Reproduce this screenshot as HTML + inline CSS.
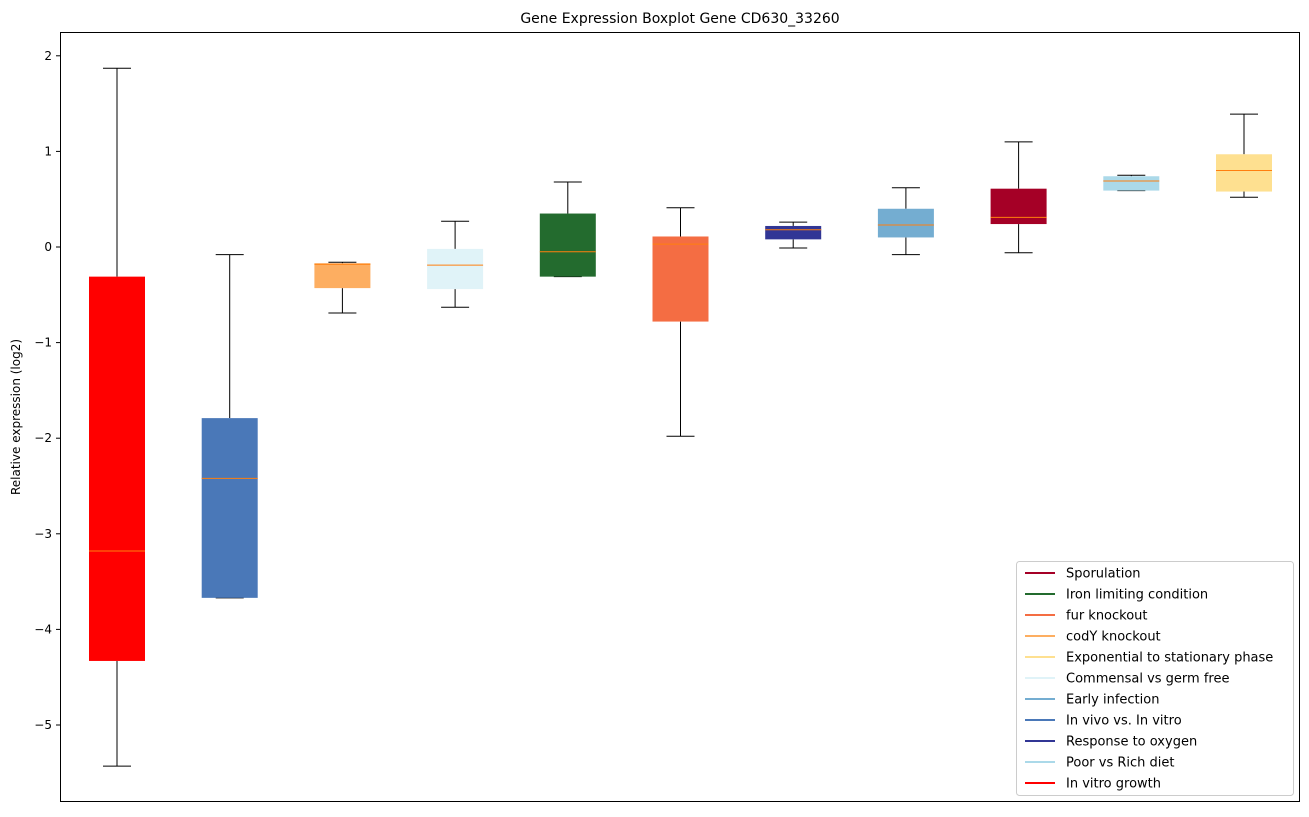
<!DOCTYPE html>
<html><head><meta charset="utf-8">
<style>
body{margin:0;background:#fff;font-family:"Liberation Sans","DejaVu Sans",sans-serif;}
svg text{font-family:"DejaVu Sans","Liberation Sans",sans-serif;}
</style></head>
<body>
<svg id="chart" width="1309" height="812" xmlns="http://www.w3.org/2000/svg">
<text x="680" y="23" font-size="14" text-anchor="middle">Gene Expression Boxplot Gene CD630_33260</text>
<text transform="translate(20,417) rotate(-90)" font-size="12" text-anchor="middle">Relative expression (log2)</text>
<g id="ticks"></g>
<g id="boxes"></g>
<rect x="60.5" y="32.5" width="1239" height="769" fill="none" stroke="#000" stroke-width="1"/>
<g id="legend"></g>
</svg>
<script>
const categories=["In vitro growth","In vivo vs. In vitro","codY knockout","Commensal vs germ free","Iron limiting condition","fur knockout","Response to oxygen","Early infection","Sporulation","Poor vs Rich diet","Exponential to stationary phase"];
const colors=["#ff0000","#4a78b8","#fdae61","#e0f3f8","#236b2e","#f46d43","#313695","#74add1","#a50026","#abd9e9","#fee090"];
const whiskerHigh=[1.87,-0.08,-0.16,0.27,0.68,0.41,0.26,0.62,1.10,0.75,1.39];
const q3=[-0.31,-1.79,-0.17,-0.02,0.35,0.11,0.22,0.40,0.61,0.74,0.97];
const medians=[-3.18,-2.42,-0.18,-0.19,-0.05,0.03,0.18,0.23,0.31,0.69,0.80];
const q1=[-4.33,-3.67,-0.43,-0.44,-0.31,-0.78,0.08,0.10,0.24,0.59,0.58];
const whiskerLow=[-5.43,-3.67,-0.69,-0.63,-0.31,-1.98,-0.01,-0.08,-0.06,0.59,0.52];
const yTicks=[2,1,0,-1,-2,-3,-4,-5];
const legendOrder=["Sporulation","Iron limiting condition","fur knockout","codY knockout","Exponential to stationary phase","Commensal vs germ free","Early infection","In vivo vs. In vitro","Response to oxygen","Poor vs Rich diet","In vitro growth"];
const NS="http://www.w3.org/2000/svg";
const y=v=>247-v*95.6;
const x=i=>117+i*112.7;
function mk(t,a,p){const e=document.createElementNS(NS,t);for(const k in a)e.setAttribute(k,a[k]);p.appendChild(e);return e;}
const tg=document.getElementById('ticks');
yTicks.forEach(t=>{
 const l=mk('line',{x1:56,x2:60,y1:y(t),y2:y(t),stroke:'#000'},tg);
 
 
 const tx=mk('text',{x:52,y:y(t)+4,'font-size':12,'text-anchor':'end'},tg);
 tx.textContent=(t<0?'\u2212'+(-t):t);
 
 
});
const bg=document.getElementById('boxes');
categories.forEach((c,i)=>{
 const g=mk('g',{},bg);
 
 
 const cx=x(i),w=56;
 mk('line',{x1:cx,x2:cx,y1:y(whiskerHigh[i]),y2:y(q3[i]),stroke:'#000'},g);
 mk('line',{x1:cx,x2:cx,y1:y(q1[i]),y2:y(whiskerLow[i]),stroke:'#000'},g);
 mk('line',{x1:cx-14,x2:cx+14,y1:y(whiskerHigh[i]),y2:y(whiskerHigh[i]),stroke:'#000'},g);
 mk('line',{x1:cx-14,x2:cx+14,y1:y(whiskerLow[i]),y2:y(whiskerLow[i]),stroke:'#000'},g);
 mk('rect',{x:cx-w/2,y:y(q3[i]),width:w,height:Math.max(1,y(q1[i])-y(q3[i])),fill:colors[i]},g);
 mk('line',{x1:cx-w/2,x2:cx+w/2,y1:y(medians[i]),y2:y(medians[i]),stroke:'#ff7f0e','stroke-width':1},g);
});
const lg=document.getElementById('legend');
const lb=mk('rect',{x:1016.5,y:561.5,width:277,height:234,rx:3,fill:'#fff',stroke:'#ccc'},lg);


legendOrder.forEach((n,j)=>{
 const ci=categories.indexOf(n);
 const yy=573+j*21;
 const e=mk('g',{},lg);
 
 
 mk('line',{x1:1025,x2:1055,y1:yy,y2:yy,stroke:colors[ci],'stroke-width':2},e);
 const t=mk('text',{x:1066,y:yy+4.5,'font-size':13},e);
 t.textContent=n;
});
</script>
</body></html>
